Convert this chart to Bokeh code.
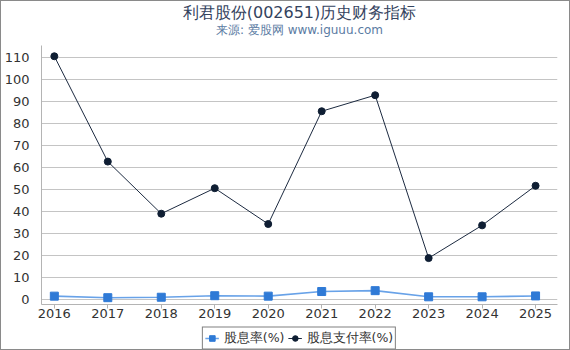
from bokeh.plotting import figure
from bokeh.models import Range1d, FixedTicker, Legend, LegendItem
from bokeh.layouts import column
from bokeh.core.properties import value
from bokeh.embed import file_html
from bokeh.resources import INLINE

years = [2016, 2017, 2018, 2019, 2020, 2021, 2022, 2023, 2024, 2025]
dividend_yield = [1.5, 0.8, 1.0, 1.7, 1.5, 3.6, 4.0, 1.2, 1.2, 1.6]
payout_ratio = [110.6, 62.7, 39.0, 50.6, 34.3, 85.6, 92.9, 18.8, 33.7, 51.7]
y_ticks = [0, 10, 20, 30, 40, 50, 60, 70, 80, 90, 100, 110]
title_text = "利君股份(002651)历史财务指标"
subtitle_text = "来源: 爱股网 www.iguuu.com"
series_names = ["股息率(%)", "股息支付率(%)"]

FONT = "DejaVu Sans"
W = 568
C1_LINE, C1_MARK = "#68a2e8", "#2f7ad6"
C2_LINE, C2_MARK = "#1c2a40", "#0f1e33"

# ---- title strip ----
pt = figure(width=W, height=44, output_backend="svg", toolbar_location=None,
            x_range=Range1d(0, W), y_range=Range1d(44, 0),
            x_axis_type=None, y_axis_type=None,
            min_border=0, min_border_left=0, min_border_right=0,
            min_border_top=0, min_border_bottom=0)
pt.outline_line_color = None
pt.grid.grid_line_color = None
pt.text(x=[284], y=[10.5], text=[title_text], text_font=value(FONT),
        text_font_size="16px", text_color="#34435e",
        text_align="center", text_baseline="middle")
pt.text(x=[284], y=[28], text=[subtitle_text], text_font=value(FONT),
        text_font_size="12px", text_color="#5b7ba3",
        text_align="center", text_baseline="middle")

# ---- main chart ----
p = figure(width=W, height=281, output_backend="svg", toolbar_location=None,
           x_range=Range1d(2015.76, 2025.41), y_range=Range1d(-2.3, 115.5),
           min_border_left=40, min_border_right=12,
           min_border_top=0, min_border_bottom=22)
p.outline_line_color = None
p.background_fill_color = "white"
p.border_fill_color = "white"

p.xgrid.grid_line_color = None
p.ygrid.grid_line_color = "#c4c4c4"
p.ygrid.grid_line_width = 1

p.xaxis.ticker = FixedTicker(ticks=years)
p.yaxis.ticker = FixedTicker(ticks=y_ticks)
for ax in (p.xaxis, p.yaxis):
    ax.axis_line_color = "#b4b4b4"
    ax.major_label_text_font = FONT
    ax.major_label_text_font_size = "13px"
    ax.major_label_text_color = "#333333"
    ax.minor_tick_line_color = None
p.xaxis.major_tick_line_color = "#b4b4b4"
p.xaxis.major_tick_out = 4
p.xaxis.major_tick_in = 0
p.xaxis.major_label_standoff = 0
p.yaxis.major_tick_line_color = None
p.yaxis.major_label_standoff = 6

p.line(years, dividend_yield, line_color=C1_LINE, line_width=1.6)
p.scatter(years, dividend_yield, marker="square", size=8,
          fill_color=C1_MARK, line_color=C1_MARK)
p.line(years, payout_ratio, line_color=C2_LINE, line_width=1)
p.scatter(years, payout_ratio, marker="circle", size=7,
          fill_color=C2_MARK, line_color=C2_MARK)

# ---- legend strip ----
pl = figure(width=W, height=23, output_backend="svg", toolbar_location=None,
            x_range=Range1d(0, 1), y_range=Range1d(0, 1),
            x_axis_type=None, y_axis_type=None,
            min_border=0, min_border_left=0, min_border_right=0,
            min_border_top=0, min_border_bottom=0)
pl.outline_line_color = None
pl.grid.grid_line_color = None
off = [-5]
g1l = pl.line(off, off, line_color=C1_LINE, line_width=1.6)
g1m = pl.scatter(off, off, marker="square", size=7, fill_color=C1_MARK, line_color=C1_MARK)
g2l = pl.line(off, off, line_color=C2_LINE, line_width=1)
g2m = pl.scatter(off, off, marker="circle", size=6, fill_color=C2_MARK, line_color=C2_MARK)
legend = Legend(items=[LegendItem(label=series_names[0], renderers=[g1l, g1m]),
                       LegendItem(label=series_names[1], renderers=[g2l, g2m])],
                orientation="horizontal", location="center",
                label_text_font=FONT, label_text_font_size="12.5px",
                label_text_color="#333333", border_line_color="black",
                border_line_width=1, padding=2, spacing=3, margin=0,
                glyph_width=14, glyph_height=17, label_standoff=5,
                label_height=17, label_width=10, background_fill_color="white")
pl.add_layout(legend, "center")

layout = column(pt, p, pl, spacing=0)
layout.styles = {"border": "1px solid #8a8a8a"}
open("out.html", "w").write(file_html(layout, INLINE))
